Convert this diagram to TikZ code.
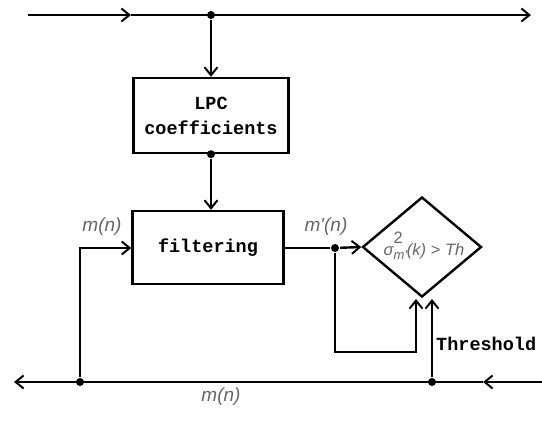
\documentclass[tikz,border=0pt]{standalone}
\usepackage{fontspec}
\setmainfont{Liberation Serif}
\newfontfamily\monofam{Liberation Mono}
\newfontfamily\sansfam{Liberation Sans}
\usetikzlibrary{arrows.meta,shapes.geometric}
\begin{document}
\begin{tikzpicture}[x=1pt,y=-1pt,
  line width=2.4pt,
  arr/.style={-{Straight Barb[length=8pt,width=13pt,line width=2pt]}},
  blk/.style={draw,rectangle,inner sep=0pt,align=center,
    font=\monofam\bfseries\fontsize{18.5}{25}\selectfont},
  lbl/.style={font=\sansfam\itshape\fontsize{19}{21}\selectfont,text=black!60,inner sep=0pt},
  dot/.style={circle,fill=black,inner sep=0pt,minimum size=8pt},
  thr/.style={font=\monofam\bfseries\fontsize{18.5}{22}\selectfont,inner sep=0pt,anchor=west}]
\useasboundingbox (0,0) rectangle (542,424);
% top line
\coordinate (tl) at (28,15);
\coordinate (tm) at (131,15);
\coordinate (tr) at (531,15);
\node[dot] (tj) at (211,15) {};
\draw[arr] (tl) -- (tm);
\draw[arr] (tm) -- (tr);
% boxes
\node[blk,minimum width=155pt,minimum height=75pt] (lpc) at (211,115.5) {LPC\\coefficients};
\node[blk,minimum width=151pt,minimum height=73pt] (filt) at (208,247.5) {filtering};
\node[draw,diamond,minimum width=119pt,minimum height=100pt,inner sep=0pt] (dec) at (422,247) {};
\draw[arr] (tj) -- (lpc.north);
\node[dot] (lb) at (lpc.south) {};
\draw[arr] (lb) -- (lb |- filt.north);
% bottom line
\coordinate (br) at (542,382);
\coordinate (bm) at (483,382);
\coordinate (bl) at (14,382);
\node[dot] (bj1) at (80,382) {};
\node[dot] (bj2) at (432,382) {};
\draw[arr] (br) -- (bm);
\draw[arr] (bm) -- (bl);
% input to filter
\coordinate (ic) at (80,248);
\draw[arr] (bj1) -- (ic) -- (filt.west |- ic);
% output
\node[dot] (oj) at (335,248) {};
\draw (filt.east |- oj) -- (oj);
\draw[arr] (oj) -- (dec.west);
% feedback
\coordinate (f1) at (335,352);
\coordinate (f2) at (416,352);
\coordinate (f3) at (416,299);
\draw[arr] (oj) -- (f1) -- (f2) -- (f3);
% threshold
\coordinate (t3) at (432,299);
\draw[arr] (bj2) -- (t3);
% labels
\node[lbl] (l1) at (102,227) {m(n)};
\node[lbl] (l2) at (326,227) {m'(n)};
\node[lbl] (l3) at (221,397) {m(n)};
\node[thr] (l4) at (435,344) {Threshold};
\node[font=\sansfam\itshape\fontsize{16.5}{18}\selectfont,text=black!60,inner sep=0pt] (dl) at (424,246)
  {σ\makebox[0pt][l]{\raisebox{1.3ex}{\upshape 2}}\raisebox{-0.55ex}{\fontsize{13}{14}\selectfont m'}(k) {\upshape >} Th};
\end{tikzpicture}
\end{document}
